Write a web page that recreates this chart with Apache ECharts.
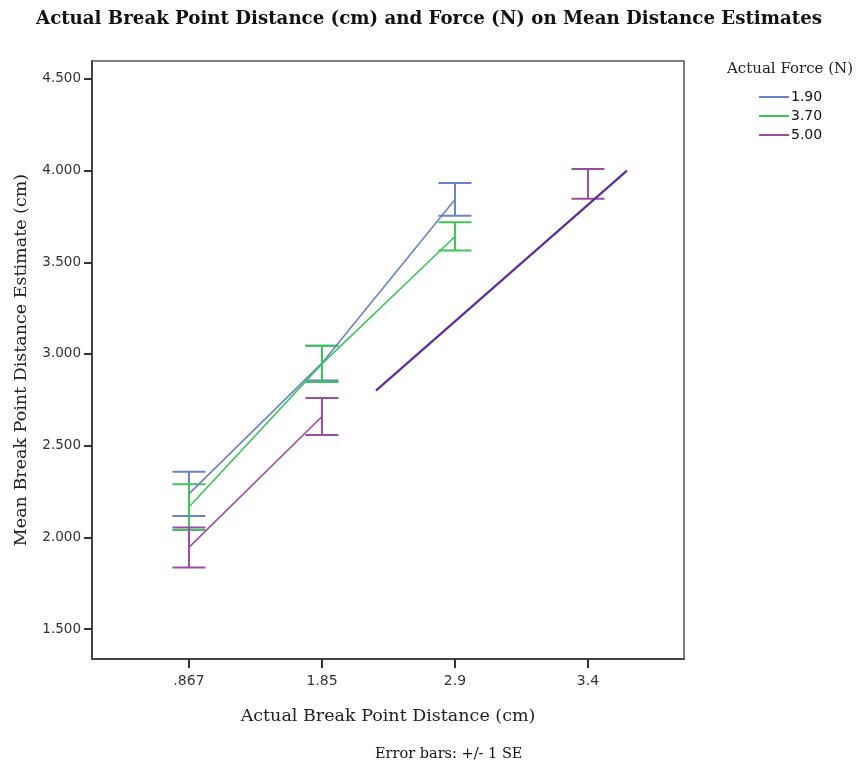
<!DOCTYPE html>
<html>
<head>
<meta charset="utf-8">
<script src="https://cdn.jsdelivr.net/npm/echarts@6/dist/echarts.min.js"></script>
<style>html,body{margin:0;padding:0;background:#fff;}#c{width:858px;height:768px;}</style>
</head>
<body>
<div id="c"></div>
<script>
// ---- data ----
var categories = ['.867', '1.85', '2.9', '3.4'];
var yTicks = [1.5, 2.0, 2.5, 3.0, 3.5, 4.0, 4.5];
var forceNames = ['1.90', '3.70', '5.00'];
// mean values per category (null = no data)
var mean190 = [2.237, 2.950, 3.843, null];
var mean370 = [2.165, 2.946, 3.641, null];
var mean500 = [1.945, 2.659, null, 3.928];
// standard error (half width of error bars)
var se190 = [0.121, 0.095, 0.089, null];
var se370 = [0.125, 0.099, 0.077, null];
var se500 = [0.109, 0.101, null, 0.081];
// extra straight line drawn on the chart (x in category index units, y in value)
var extraLineX = [1.406, 3.293];
var extraLineY = [2.80, 4.00];

var colors = ['#6a82c8', '#3fc45c', '#9b4ea0'];
var extraColor = '#5b2d9b';

function lineData(m) {
  return m.map(function (v, i) { return v == null ? [i, '-'] : [i, v]; });
}
function errData(m, s) {
  var out = [];
  m.forEach(function (v, i) { if (v != null) out.push([i, v - s[i], v + s[i]]); });
  return out;
}
function errSeries(name, m, s, color) {
  return {
    type: 'custom', name: name, silent: true, z: 3,
    data: errData(m, s),
    encode: { x: 0, y: [1, 2] },
    renderItem: function (params, api) {
      var x = api.value(0);
      var lo = api.coord([x, api.value(1)]);
      var hi = api.coord([x, api.value(2)]);
      var hw = 16.5;
      var st = { stroke: color, lineWidth: 2 };
      return {
        type: 'group',
        children: [
          { type: 'line', shape: { x1: lo[0], y1: lo[1], x2: hi[0], y2: hi[1] }, style: st },
          { type: 'line', shape: { x1: lo[0] - hw, y1: lo[1], x2: lo[0] + hw, y2: lo[1] }, style: st },
          { type: 'line', shape: { x1: hi[0] - hw, y1: hi[1], x2: hi[0] + hw, y2: hi[1] }, style: st }
        ]
      };
    }
  };
}
function lineSeries(name, m, color) {
  return {
    type: 'line', name: name, data: lineData(m), showSymbol: false, symbol: 'none',
    connectNulls: false, z: 4,
    lineStyle: { color: color, width: 1.6 }, itemStyle: { color: color }
  };
}

var serifFont = '"DejaVu Serif", "Liberation Serif", serif';
var sansFont = '"DejaVu Sans", sans-serif';

var chart = echarts.init(document.getElementById('c'), null, { renderer: 'canvas' });
chart.setOption({
  animation: false,
  backgroundColor: '#fff',
  title: {
    text: 'Actual Break Point Distance (cm) and Force (N) on Mean Distance Estimates',
    left: 'center', top: 5,
    textStyle: { fontFamily: serifFont, fontWeight: 'bold', fontSize: 18.2, color: '#111' }
  },
  legend: {
    data: forceNames,
    orient: 'vertical', left: 759, top: 90, padding: 0,
    itemWidth: 30, itemHeight: 2, itemGap: 5, icon: 'rect',
    textStyle: { fontFamily: sansFont, fontSize: 14, color: '#111', padding: [0, 0, 0, -3] }
  },
  grid: { left: 92, right: 174, top: 61, bottom: 109, show: true, borderColor: '#555', borderWidth: 1.5, containLabel: false },
  xAxis: {
    type: 'value', min: -0.729, max: 3.722,
    name: 'Actual Break Point Distance (cm)', nameLocation: 'middle', nameGap: 48,
    nameTextStyle: { fontFamily: serifFont, fontSize: 17.5, color: '#222' },
    axisLine: { show: true, onZero: false, lineStyle: { color: '#444', width: 2 } },
    axisTick: { show: true, length: 9, lineStyle: { color: '#333', width: 2 }, customValues: [0, 1, 2, 3] },
    axisLabel: { customValues: [0, 1, 2, 3], margin: 15, fontFamily: sansFont, fontSize: 14, color: '#333',
      formatter: function (v) { return categories[Math.round(v)]; } },
    splitLine: { show: false }
  },
  yAxis: {
    type: 'value', min: 1.3364, max: 4.598,
    name: 'Mean Break Point Distance Estimate (cm)', nameLocation: 'middle', nameGap: 62, nameRotate: 90,
    nameTextStyle: { fontFamily: serifFont, fontSize: 17.5, color: '#222' },
    axisLine: { show: true, onZero: false, lineStyle: { color: '#444', width: 2 } },
    axisTick: { show: true, length: 8, lineStyle: { color: '#333', width: 2 }, customValues: yTicks },
    axisLabel: { customValues: yTicks, margin: 11, fontFamily: sansFont, fontSize: 13.5, color: '#333',
      formatter: function (v) { return v.toFixed(3); } },
    splitLine: { show: false }
  },
  graphic: [
    { type: 'text', left: 727, top: 62, style: { text: 'Actual Force (N)', font: '15px ' + serifFont, fill: '#222' } },
    { type: 'text', left: 375, top: 747, style: { text: 'Error bars: +/- 1 SE', font: '14.5px ' + serifFont, fill: '#111' } }
  ],
  series: [
    lineSeries(forceNames[0], mean190, colors[0]),
    lineSeries(forceNames[1], mean370, colors[1]),
    lineSeries(forceNames[2], mean500, colors[2]),
    errSeries(forceNames[0], mean190, se190, colors[0]),
    errSeries(forceNames[1], mean370, se370, colors[1]),
    errSeries(forceNames[2], mean500, se500, colors[2]),
    {
      type: 'line', name: 'extra', data: extraLineX.map(function (x, i) { return [x, extraLineY[i]]; }),
      showSymbol: false, symbol: 'none', z: 5,
      lineStyle: { color: extraColor, width: 2.2 }, itemStyle: { color: extraColor }
    }
  ]
});
</script>
</body>
</html>
